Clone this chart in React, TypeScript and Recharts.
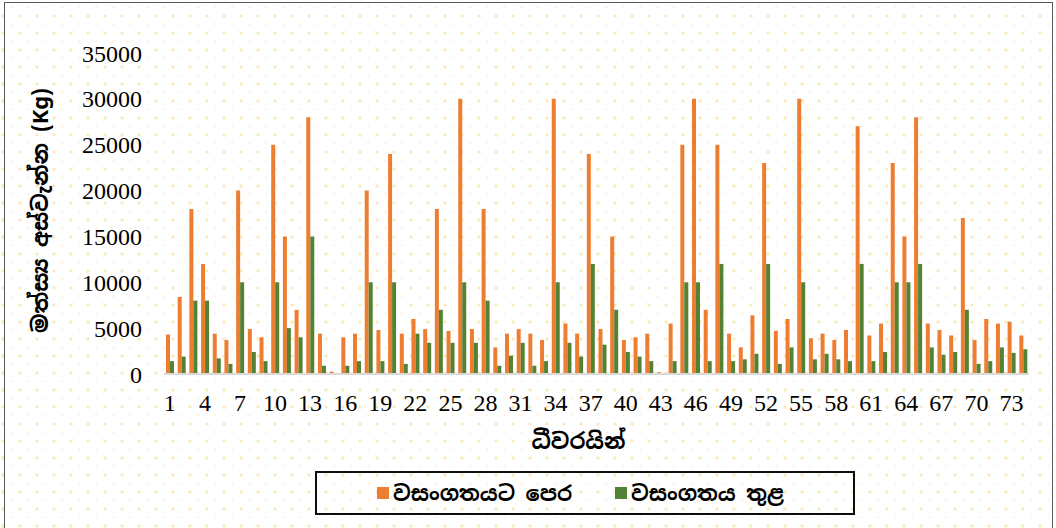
import React from 'react';
import { BarChart, Bar, XAxis, YAxis, Legend, Label } from 'recharts';

const categories: number[] = Array.from({ length: 74 }, (_, i) => i + 1);

const beforeValues: number[] = [
  4300, 8400, 18000, 12000, 4400, 3700, 20000, 4900, 4000, 25000,
  15000, 7000, 28000, 4400, 250, 4000, 4400, 20000, 4800, 24000,
  4400, 6000, 4900, 18000, 4700, 30000, 4900, 18000, 2900, 4400,
  4900, 4400, 3700, 30000, 5500, 4400, 24000, 4900, 15000, 3700,
  4000, 4400, 200, 5500, 25000, 30000, 7000, 25000, 4400, 2900,
  6400, 23000, 4700, 6000, 30000, 3900, 4400, 3700, 4800, 27000,
  4200, 5500, 23000, 15000, 28000, 5500, 4800, 4200, 17000, 3700,
  6000, 5500, 5700, 4200,
];

const duringValues: number[] = [
  1400, 1900, 8000, 8000, 1700, 1100, 10000, 2400, 1400, 10000,
  5000, 4000, 15000, 900, 100, 900, 1400, 10000, 1400, 10000,
  1100, 4400, 3400, 7000, 3400, 10000, 3400, 8000, 900, 2000,
  3400, 900, 1400, 10000, 3400, 1900, 12000, 3200, 7000, 2400,
  1900, 1400, 70, 1400, 10000, 10000, 1400, 12000, 1400, 1600,
  2200, 12000, 1100, 2900, 10000, 1600, 2200, 1600, 1400, 12000,
  1400, 2400, 10000, 10000, 12000, 2900, 2100, 2400, 7000, 1100,
  1400, 2900, 2300, 2700,
];

const yTicks: number[] = [0, 5000, 10000, 15000, 20000, 25000, 30000, 35000];

const seriesNames = ['වසංගතයට පෙර', 'වසංගතය තුළ'];
const seriesColors = ['#ED7D31', '#548235'];
const xTitle = 'ධීවරයින්';
const yTitle = 'මත්ස්‍ය අස්වැන්න (Kg)';

const data = categories.map((c, i) => ({
  cat: c,
  before: beforeValues[i],
  during: duringValues[i],
}));

const numFont = "'Liberation Serif', 'DejaVu Serif', serif";
const sinFont = "'Noto Sans Sinhala', 'Iskoola Pota', 'Noto Sans', 'DejaVu Sans', sans-serif";

const LegendBox = () => (
  <div
    style={{
      position: 'relative',
      width: 540,
      height: 44,
      boxSizing: 'border-box',
      border: '2px solid #0d0d0d',
      fontFamily: sinFont,
      fontWeight: 700,
      fontSize: 21,
      color: '#000',
    }}
  >
    {seriesNames.map((n, i) => (
      <div
        key={n}
        style={{
          position: 'absolute',
          left: i === 0 ? 60 : 298,
          top: 0,
          height: 40,
          display: 'flex',
          alignItems: 'center',
          whiteSpace: 'nowrap',
        }}
      >
        <span
          style={{
            display: 'inline-block',
            width: 12,
            height: 12,
            background: seriesColors[i],
            marginRight: 4,
          }}
        />
        <span>{n}</span>
      </div>
    ))}
  </div>
);

export default function App() {
  return (
    <div
      style={{
        position: 'fixed',
        left: 0,
        top: 0,
        width: 1056,
        height: 528,
        overflow: 'hidden',
        background: '#ffffff',
        backgroundImage:
          'radial-gradient(circle, #fde3a8 1.1px, rgba(255,255,255,0) 1.6px), radial-gradient(circle, #feeec8 0.8px, rgba(255,255,255,0) 1.3px)',
        backgroundSize: '17px 17px, 17px 17px',
        backgroundPosition: '11.5px 7.5px, 2.8px 15.8px',
      }}
    >
      <div
        style={{
          position: 'absolute',
          left: 4,
          top: 2,
          width: 1049,
          height: 540,
          boxSizing: 'border-box',
          border: '1px solid #595959',
        }}
      />
      <div style={{ position: 'absolute', left: 0, top: 0 }}>
        <BarChart
          width={1056}
          height={528}
          data={data}
          margin={{ top: 53, right: 27, left: 0, bottom: 13 }}
          barGap={0}
          barSize={4}
        >
          <XAxis
            dataKey="cat"
            interval={2}
            tickLine={false}
            tickSize={0}
            tickMargin={20}
            axisLine={{ stroke: '#d9d9d9', strokeWidth: 2 }}
            tick={{ fontFamily: numFont, fontSize: 24, fill: '#000' }}
            height={97}
          >
            <Label
              content={(props: any) => {
                const vb = props.viewBox || {};
                return (
                  <text
                    x={vb.x + vb.width / 2 - 18}
                    y={449}
                    textAnchor="middle"
                    fontFamily={sinFont}
                    fontWeight={700}
                    fontSize={22}
                    fill="#000"
                  >
                    {xTitle}
                  </text>
                );
              }}
            />
          </XAxis>
          <YAxis
            width={164}
            domain={[0, 35000]}
            ticks={yTicks}
            interval={0}
            tickLine={false}
            axisLine={false}
            tickSize={0}
            tickMargin={22}
            tick={{ fontFamily: numFont, fontSize: 24, fill: '#000' }}
          >
            <Label
              content={(props: any) => {
                const vb = props.viewBox || {};
                const cy = vb.y + vb.height / 2 - 3;
                return (
                  <text
                    x={40}
                    y={cy}
                    transform={`rotate(-90, 40, ${cy})`}
                    textAnchor="middle"
                    dominantBaseline="central"
                    fontFamily={sinFont}
                    fontWeight={700}
                    fontSize={22}
                    fill="#000"
                  >
                    {yTitle}
                  </text>
                );
              }}
            />
          </YAxis>
          <Legend
            verticalAlign="bottom"
            content={() => <LegendBox />}
            wrapperStyle={{ left: 315, width: 540, bottom: 13 }}
          />
          <Bar dataKey="before" name={seriesNames[0]} fill={seriesColors[0]} isAnimationActive={false} />
          <Bar dataKey="during" name={seriesNames[1]} fill={seriesColors[1]} isAnimationActive={false} />
        </BarChart>
      </div>
    </div>
  );
}
